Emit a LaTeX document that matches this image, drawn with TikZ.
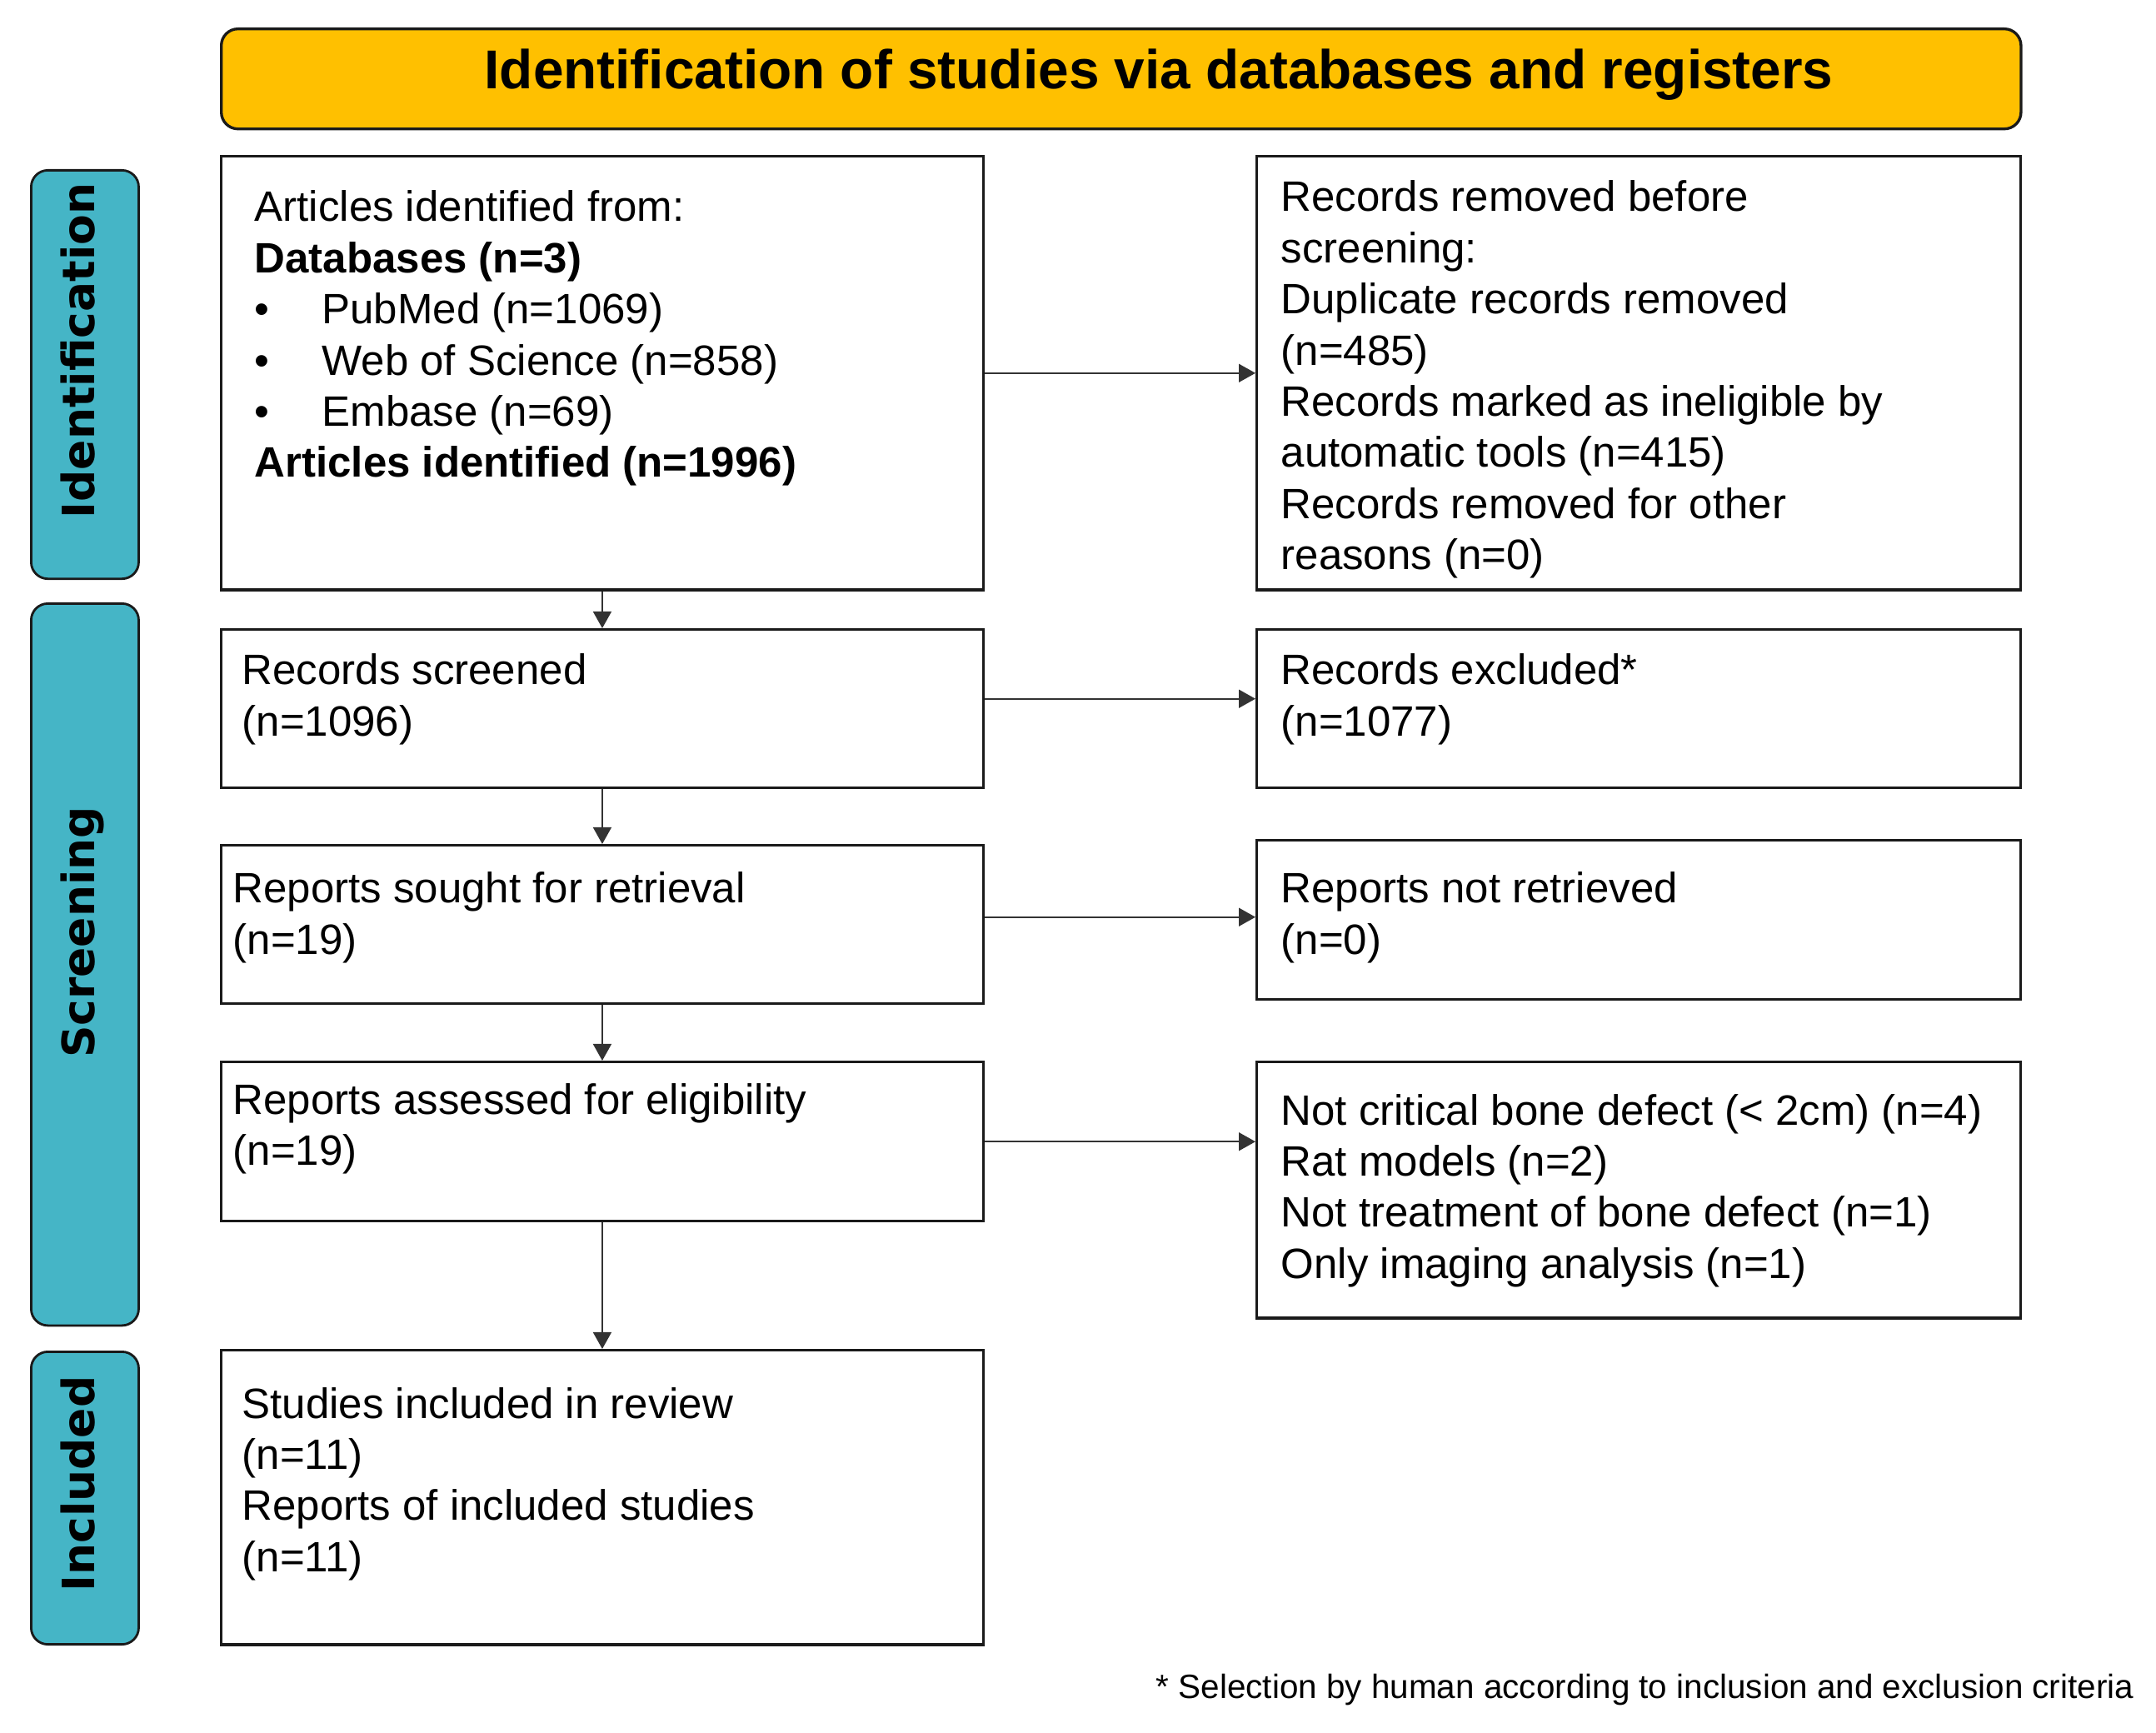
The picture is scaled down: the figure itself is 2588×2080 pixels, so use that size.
\documentclass[tikz,border=0pt]{standalone}
\usepackage{fontspec}
\setmainfont{Liberation Sans}
\newfontfamily\sidefont{DejaVu Sans}
\usetikzlibrary{arrows.meta,calc}
\definecolor{hdrcol}{HTML}{FFC000}
\definecolor{sidecol}{HTML}{45B5C6}
\definecolor{boxline}{HTML}{1A1A1A}
\definecolor{arrcol}{HTML}{333333}
\newcommand{\bul}{\hbox to 23pt{\textbullet\hfil}}
\begin{document}
\begin{tikzpicture}[x=0.01cm,y=-0.01cm,
  box/.style={draw=boxline, line width=0.95pt, fill=white, minimum width=9.14cm, anchor=north west, inner sep=0},
  rbox/.style={box, minimum width=9.16cm},
  side/.style={draw=boxline, line width=0.8pt, fill=sidecol, rounded corners=0.2cm, minimum width=1.29cm, anchor=north west, inner sep=0},
  sidetxt/.style={rotate=90, inner sep=0, text height=0.73em, text depth=0pt, font=\sidefont\bfseries\fontsize{15.2}{18}\selectfont},
  txt/.style={anchor=base west, inner sep=0, font=\fontsize{14.5}{17.45}\selectfont},
  arr/.style={draw=arrcol, line width=0.45pt, -{Triangle[length=0.2cm,width=0.22cm]}},
]
\useasboundingbox (0,0) rectangle (2588,2080);

% header
\node[draw=boxline, line width=0.95pt, fill=hdrcol, rounded corners=0.2cm,
      minimum width=21.59cm, minimum height=1.20cm, anchor=north west, inner sep=0] (hdr) at (264,33) {};
\node[inner sep=0, font=\bfseries\fontsize{18.7}{22}\selectfont] (hdrtxt) at (1391,90)
      {Identification of studies via databases and registers};

% side boxes
\node[side, minimum height=4.90cm] (sid) at (36,203) {};
\node[side, minimum height=8.66cm] (ssc) at (36,723) {};
\node[side, minimum height=3.51cm] (sin) at (36,1621) {};
\node[sidetxt] (lid) at (101,421) {Identification};
\node[sidetxt] (lsc) at (101,1119) {Screening};
\node[sidetxt] (lin) at (101,1781) {Included};

% left boxes
\node[box, minimum height=5.20cm] (B1) at (264,186) {};
\node[box, minimum height=1.90cm] (B2) at (264,754) {};
\node[box, minimum height=1.90cm] (B3) at (264,1013) {};
\node[box, minimum height=1.91cm] (B4) at (264,1273) {};
\node[box, minimum height=3.53cm] (B5) at (264,1619) {};

% right boxes
\node[rbox, minimum height=5.20cm] (R1) at (1507,186) {};
\node[rbox, minimum height=1.90cm] (R2) at (1507,754) {};
\node[rbox, minimum height=1.91cm] (R3) at (1507,1007) {};
\node[rbox, minimum height=3.07cm] (R4) at (1507,1273) {};

% texts
\node[txt] (t1) at (305,266) {\begin{tabular}[t]{@{}l@{}}
Articles identified from:\\
\textbf{Databases (n=3)}\\
\bul PubMed (n=1069)\\
\bul Web of Science (n=858)\\
\bul Embase (n=69)\\
\textbf{Articles identified (n=1996)}
\end{tabular}};
\node[txt] (tr1) at (1537,254) {\begin{tabular}[t]{@{}l@{}}
Records removed before\\
screening:\\
Duplicate records removed\\
(n=485)\\
Records marked as ineligible by\\
automatic tools (n=415)\\
Records removed for other\\
reasons (n=0)
\end{tabular}};
\node[txt] (t2) at (290,822) {\begin{tabular}[t]{@{}l@{}}
Records screened\\
(n=1096)
\end{tabular}};
\node[txt] (tr2) at (1537,822) {\begin{tabular}[t]{@{}l@{}}
Records excluded*\\
(n=1077)
\end{tabular}};
\node[txt] (t3) at (279,1084) {\begin{tabular}[t]{@{}l@{}}
Reports sought for retrieval\\
(n=19)
\end{tabular}};
\node[txt] (tr3) at (1537,1084) {\begin{tabular}[t]{@{}l@{}}
Reports not retrieved\\
(n=0)
\end{tabular}};
\node[txt] (t4) at (279,1337) {\begin{tabular}[t]{@{}l@{}}
Reports assessed for eligibility\\
(n=19)
\end{tabular}};
\node[txt] (tr4) at (1537,1350) {\begin{tabular}[t]{@{}l@{}}
Not critical bone defect (< 2cm) (n=4)\\
Rat models (n=2)\\
Not treatment of bone defect (n=1)\\
Only imaging analysis (n=1)
\end{tabular}};
\node[txt] (t5) at (290,1702) {\begin{tabular}[t]{@{}l@{}}
Studies included in review\\
(n=11)\\
Reports of included studies\\
(n=11)
\end{tabular}};

% footnote
\node[anchor=base east, inner sep=0, font=\fontsize{11.5}{13}\selectfont] (foot) at (2562,2038)
  {* Selection by human according to inclusion and exclusion criteria};

% arrows
\draw[arr] (B1.south) -- (B2.north);
\draw[arr] (B2.south) -- (B3.north);
\draw[arr] (B3.south) -- (B4.north);
\draw[arr] (B4.south) -- (B5.north);

\draw[arr] (B1.east) -- (R1.west);
\path ([yshift=0.12cm]B2.east) coordinate (a2);
\draw[arr] (a2) -- (a2 -| R2.west);
\path ([yshift=0.09cm]B3.east) coordinate (a3);
\draw[arr] (a3) -- (a3 -| R3.west);
\draw[arr] (B4.east) -- (B4.east -| R4.west);
\end{tikzpicture}
\end{document}
